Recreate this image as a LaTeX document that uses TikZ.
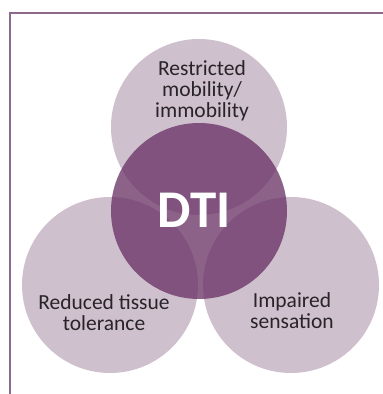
\documentclass[tikz,border=0pt]{standalone}
\usepackage{fontspec}
\setmainfont{Carlito}
\definecolor{petalfill}{RGB}{207,192,206}
\definecolor{corefill}{RGB}{102,46,98}
\definecolor{frameline}{RGB}{140,106,140}
\definecolor{labeltext}{RGB}{40,36,40}
\begin{document}
\begin{tikzpicture}[x=1pt,y=-1pt,
  petal/.style={circle,fill=petalfill,minimum size=176pt,inner sep=0pt},
  core/.style={circle,fill=corefill,fill opacity=0.75,minimum size=176pt,inner sep=0pt},
  lbl/.style={text=labeltext,align=center,font=\fontsize{21.5}{21}\selectfont,anchor=base,inner sep=0pt},
  big/.style={text=white,font=\fontsize{53}{56}\selectfont\bfseries,anchor=base,inner sep=0pt},
  framestyle/.style={draw=frameline,line width=1.5pt}]
\useasboundingbox (0,0) rectangle (383,394);
\node[petal] (top) at (199,127) {};
\node[petal] (bl) at (110,285) {};
\node[petal] (br) at (291,285) {};
\node[core] (dti) at (199,211) {};
\node[big] (dtilabel) at (194,227) {DTI};
\node[lbl] (toplabel) at (202,117) {Restricted\\mobility/\\immobility};
\node[lbl] (bllabel) at (104,330) {Reduced tissue\\tolerance};
\node[lbl] (brlabel) at (292,328) {Impaired\\sensation};
\coordinate (f1) at (10,394);
\coordinate (f2) at (10,13);
\coordinate (f3) at (383,13);
\draw[framestyle] (f1) -- (f2) -- (f3);
\end{tikzpicture}
\end{document}
